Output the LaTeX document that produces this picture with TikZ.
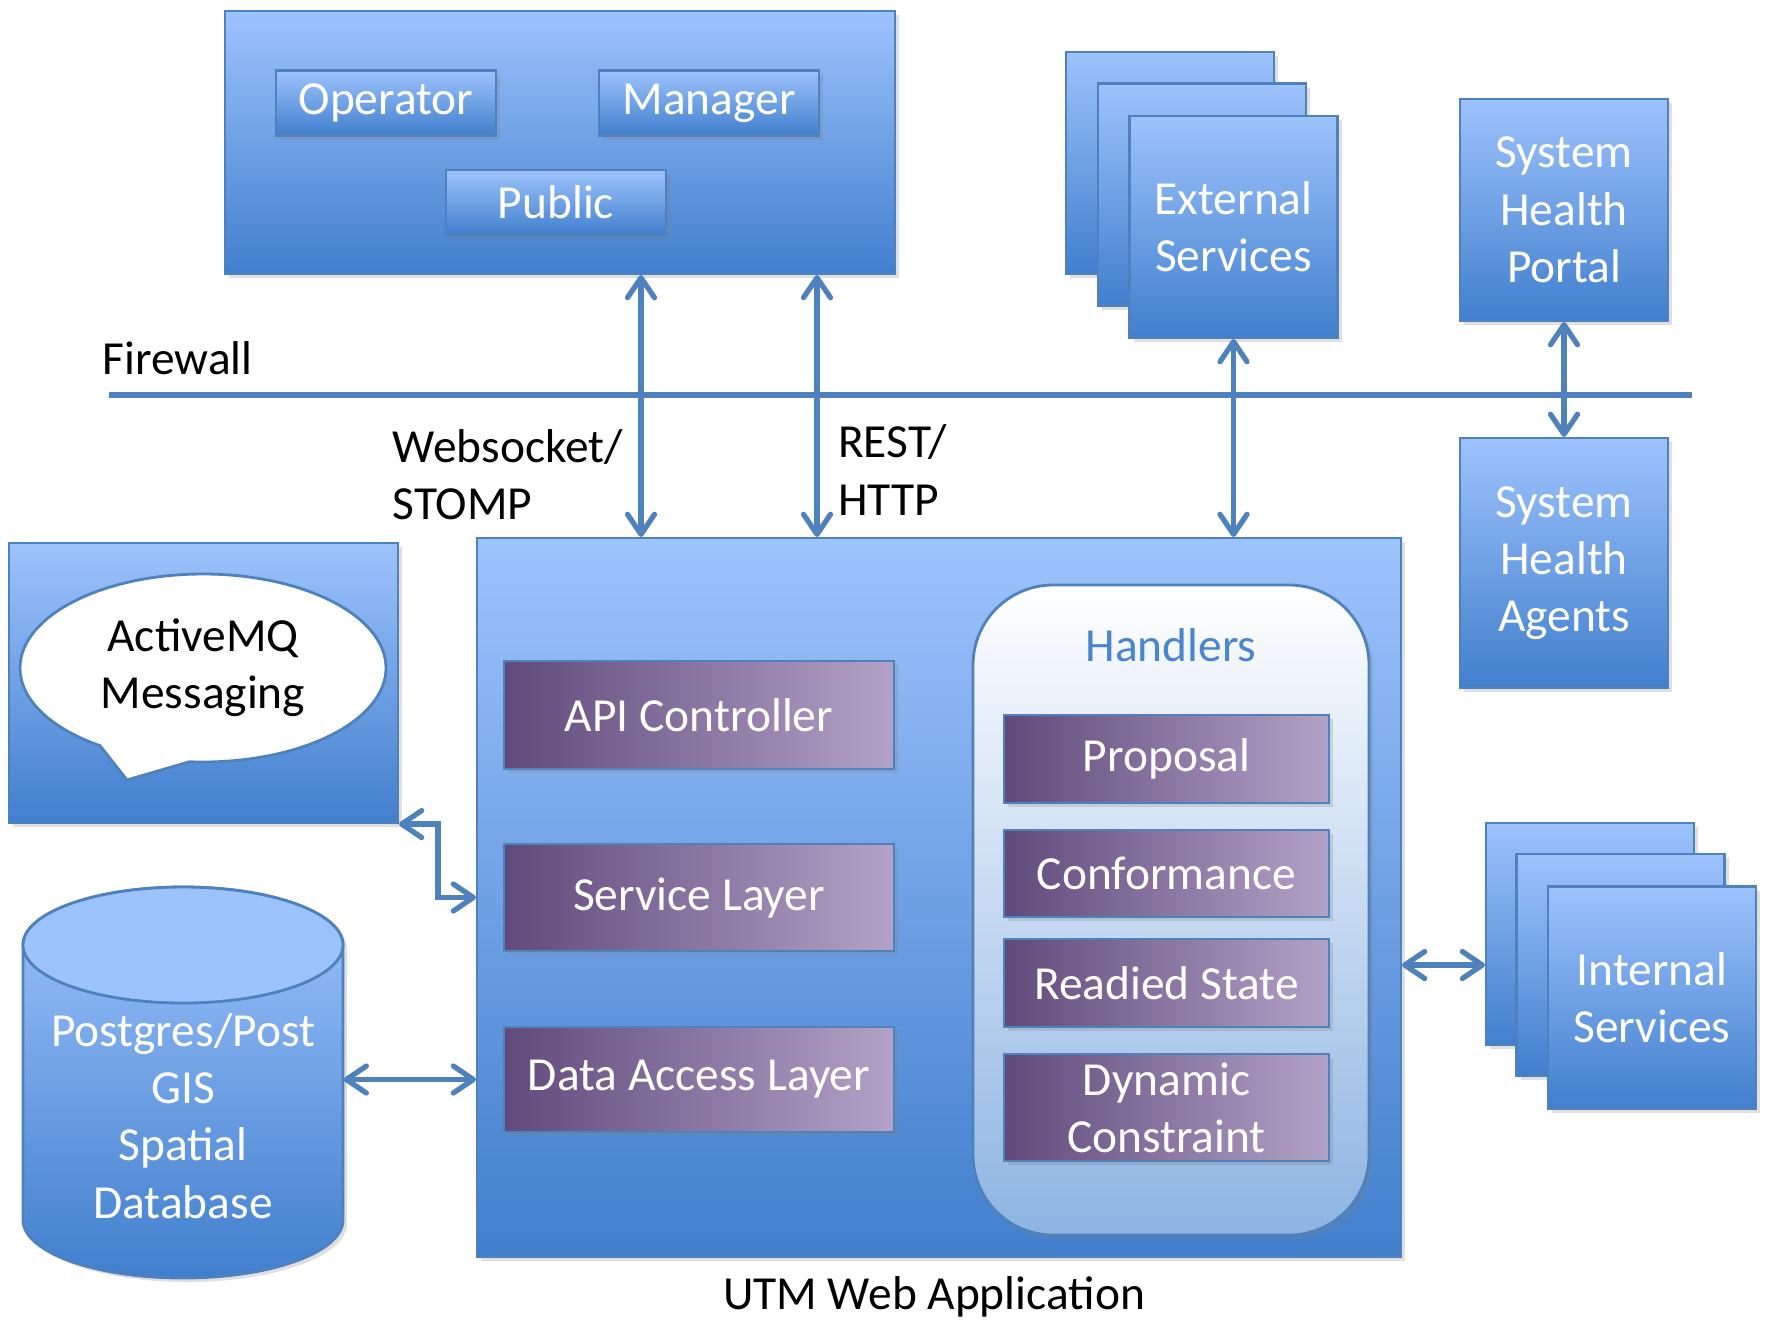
\documentclass[tikz,border=0pt]{standalone}
\usepackage{fontspec}
\setmainfont{Carlito}
\usepackage{tikz}
\usetikzlibrary{shapes.callouts, shadows, arrows.meta}

\definecolor{boxtop}{RGB}{157,195,252}
\definecolor{boxbot}{RGB}{65,127,205}
\definecolor{edgeblue}{RGB}{79,129,189}
\definecolor{layerL}{RGB}{96,74,123}
\definecolor{layerR}{RGB}{179,162,199}
\definecolor{hndbot}{RGB}{141,180,226}
\definecolor{hndtext}{RGB}{74,134,208}

\begin{document}
\begin{tikzpicture}[
  every node/.style={font=\fontsize{13.5}{16.3}\selectfont, align=center},
  bluebox/.style={draw=edgeblue, line width=0.6pt, top color=boxtop, bottom color=boxbot, text=white, inner sep=0pt},
  layerbox/.style={draw=edgeblue, line width=0.8pt, left color=layerL, right color=layerR, text=white, minimum width=3.9cm, inner sep=0pt},
  handler/.style={layerbox, minimum width=3.25cm},
  shadowed/.style={drop shadow={shadow xshift=0.04cm, shadow yshift=-0.04cm, opacity=0.25}},
  conn/.style={{Straight Barb[length=2mm, width=2.7mm, round]}-{Straight Barb[length=2mm, width=2.7mm, round]}, draw=edgeblue, line width=1.5pt, line cap=round}
]
\useasboundingbox (0,0) rectangle (17.65,-13.19);

% clients
\node[bluebox, shadowed, minimum width=6.70cm, minimum height=2.63cm] (clients) at (5.60,-1.425) {};
\node[bluebox, shadowed, minimum width=2.20cm, minimum height=0.65cm] (operator) at (3.86,-1.03) {Operator};
\node[bluebox, shadowed, minimum width=2.20cm, minimum height=0.65cm] (manager) at (7.09,-1.03) {Manager};
\node[bluebox, shadowed, minimum width=2.20cm, minimum height=0.65cm] (public) at (5.56,-2.025) {Public};

% external services
\node[bluebox, shadowed, minimum width=2.08cm, minimum height=2.22cm] (extback) at (11.70,-1.63) {};
\node[bluebox, shadowed, minimum width=2.08cm, minimum height=2.22cm] (extmid) at (12.02,-1.945) {};
\node[bluebox, shadowed, minimum width=2.08cm, minimum height=2.22cm] (ext) at (12.335,-2.27) {External\\Services};

% system health
\node[bluebox, shadowed, minimum width=2.08cm, minimum height=2.22cm] (portal) at (15.64,-2.10) {System\\Health\\Portal};
\node[bluebox, shadowed, minimum width=2.08cm, minimum height=2.50cm] (agents) at (15.64,-5.63) {System\\Health\\Agents};

% firewall
\coordinate (fwL) at (1.09,-3.95);
\coordinate (fwR) at (16.92,-3.95);
\draw[edgeblue, line width=1.6pt] (fwL) -- (fwR);
\node[anchor=west, inner sep=0pt] (fwlbl) at (1.02,-3.58) {Firewall};

% web application
\node[bluebox, shadowed, minimum width=9.24cm, minimum height=7.19cm] (utm) at (9.39,-8.975) {};
\node (utmlbl) at (9.34,-12.97) {UTM Web Application};

\node[layerbox, shadowed, minimum height=1.08cm] (api) at (6.99,-7.15) {API Controller};
\node[layerbox, shadowed, minimum height=1.07cm] (svc) at (6.99,-8.975) {Service Layer};
\node[layerbox, shadowed, minimum height=1.05cm] (dal) at (6.99,-10.795) {Data Access Layer};

\node[draw=edgeblue, line width=0.8pt, top color=white, middle color=hndbot!40!white, bottom color=hndbot,
  rounded corners=0.8cm, minimum width=3.96cm, minimum height=6.50cm, shadowed] (hnd) at (11.71,-9.10) {};
\node[text=hndtext] (hndlbl) at (11.71,-6.45) {Handlers};
\node[handler, shadowed, minimum height=0.88cm] (prop) at (11.665,-7.59) {Proposal};
\node[handler, shadowed, minimum height=0.87cm] (conf) at (11.665,-8.735) {Conformance};
\node[handler, shadowed, minimum height=0.88cm] (ready) at (11.665,-9.83) {Readied State};
\node[handler, shadowed, minimum height=1.07cm] (dyn) at (11.665,-11.075) {Dynamic\\Constraint};

% messaging
\node[bluebox, shadowed, minimum width=3.89cm, minimum height=2.80cm] (mq) at (2.035,-6.83) {};
\node[ellipse callout, draw=edgeblue, line width=0.8pt, fill=white, text=black, inner sep=0pt,
  minimum width=3.66cm, minimum height=1.88cm, callout pointer arc=30,
  callout absolute pointer={(1.27,-7.80)}] (bubble) at (2.03,-6.68) {ActiveMQ\\Messaging};

% database
\path[top color=boxtop, bottom color=boxbot, draw=edgeblue, line width=0.8pt, shadowed]
  (0.23,-9.45) -- (0.23,-12.20) arc[start angle=180, end angle=360, x radius=1.60cm, y radius=0.58cm]
  -- (3.43,-9.45) arc[start angle=0, end angle=180, x radius=1.60cm, y radius=0.58cm] -- cycle;
\path[fill=boxtop, draw=edgeblue, line width=0.8pt] (1.83,-9.45) ellipse[x radius=1.60cm, y radius=0.58cm];
\node[text=white, minimum width=3.20cm, inner sep=0pt] (db) at (1.83,-11.16) {Postgres/Post\\GIS\\Spatial\\Database};

% internal services
\node[bluebox, shadowed, minimum width=2.08cm, minimum height=2.22cm] (intback) at (15.90,-9.34) {};
\node[bluebox, shadowed, minimum width=2.08cm, minimum height=2.22cm] (intmid) at (16.205,-9.65) {};
\node[bluebox, shadowed, minimum width=2.08cm, minimum height=2.22cm] (int) at (16.52,-9.975) {Internal\\Services};

% connectors
\coordinate (wsTop) at ([xshift=8.1mm]clients.south);
\coordinate (restTop) at ([xshift=25.7mm]clients.south);
\draw[conn] (wsTop) -- (wsTop |- utm.north);
\draw[conn] (restTop) -- (restTop |- utm.north);
\node[align=left, anchor=west, inner sep=0pt] (wslbl) at (3.92,-4.75) {Websocket/\\STOMP};
\node[align=left, anchor=west, inner sep=0pt] (restlbl) at (8.375,-4.70) {REST/\\HTTP};
\draw[conn] (ext.south) -- (ext.south |- utm.north);
\draw[conn] (portal.south) -- (agents.north);
\draw[conn] (mq.south east) -- ++(0.39,0) |- (utm.west |- svc.west);
\draw[conn] (db.east |- dal.west) -- (utm.west |- dal.west);
\draw[conn] (utm.east |- intmid) -- (intback.west |- intmid);
\end{tikzpicture}
\end{document}
